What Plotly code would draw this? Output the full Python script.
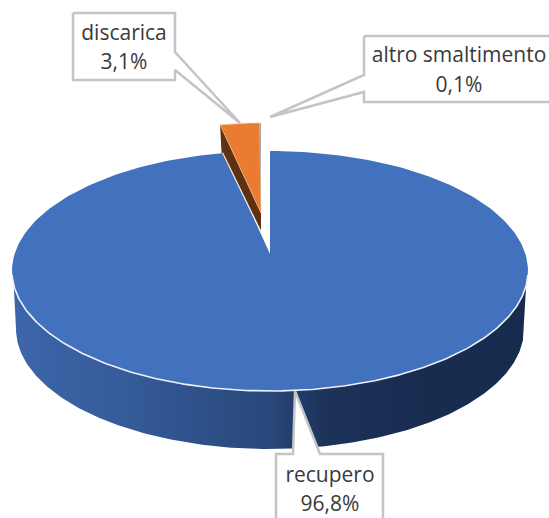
import numpy as np
import plotly.graph_objects as go

categories = ["recupero", "discarica", "altro smaltimento"]
values = [96.8, 3.1, 0.1]
colors = ["#4271BE", "#E97C30", "#A5A5A5"]

W, H = 549, 518
CX, CY, RX, RY = 270, 271, 258, 120
APEX = (270, 254)
WALL_CX, WALL_CY, WALL_RX = 270, 329, 254
GRAY = "#C4C4C4"
TXT = "#3A3A3A"
VIEW_CORRECTION = 1.3  # degrees: the perspective narrows the rim at the back


def pct(v):
    return f"{v:.1f}%".replace(".", ",")


def arc(a0, a1, cx, cy, rx, ry, n=240):
    t = np.radians(np.linspace(a0, a1, n))
    return cx + rx * np.sin(t), cy - ry * np.cos(t)


angles = np.cumsum([0] + [v / sum(values) * 360 for v in values])
fig = go.Figure()


def poly(xs, ys, fill=None, line=None, width=0, **kw):
    fig.add_trace(go.Scatter(
        x=list(xs), y=list(ys), mode="lines", fill="toself" if fill else "none",
        fillcolor=fill, line=dict(color=line or "rgba(0,0,0,0)", width=width),
        hoverinfo="skip", showlegend=False, **kw))


# side wall of the big slice
wx, wy = arc(90, 270, WALL_CX, WALL_CY, WALL_RX, RY)
poly(np.r_[CX + RX - 1, wx, CX - RX + 1], np.r_[CY, wy, CY], fill="#24406F",
     fillgradient=dict(type="horizontal", start=16, stop=524, colorscale=[
         [0, "#3D65A8"], [0.25, "#345997"], [0.5, "#284779"], [0.56, "#213B68"],
         [0.62, "#1C3258"], [0.8, "#182C50"], [1, "#172B4F"]]))

# big slice top
bx, by = arc(angles[0], angles[1] + VIEW_CORRECTION, CX, CY, RX, RY)
poly(np.r_[APEX[0], bx, APEX[0]], np.r_[APEX[1], by, APEX[1]], fill=colors[0])
fx, fy = arc(92, 268, CX, CY, RX, RY)
poly(fx, fy, line="#EEF2F8", width=1.6)

# exploded small slices
OX, OY, ORX, ORY = 261, 213, 205, 90
a = np.radians(angles[1])
left_x = OX + ORX * np.sin(a)
left_y = OY - ORY * np.cos(a)
# dark side of the discarica slice
poly([left_x, left_x + 1.5, OX, OX], [left_y, left_y + 28, OY + 18, OY], fill="#5E3210")
poly([left_x + 2.5, OX + 0.5], [left_y + 28, OY + 20], line="#EEF2F8", width=1.2)
ox, oy = arc(angles[1], angles[2], OX, OY, ORX, ORY, 40)
poly(np.r_[OX, ox, OX], np.r_[OY, oy, OY], fill=colors[1], line="#F6C7A4", width=0.6)
gx, gy = arc(angles[2], angles[3], OX, OY, ORX, ORY, 5)
poly(np.r_[OX, gx, OX], np.r_[OY, gy, OY], fill=colors[2])

# callouts
poly([73, 175, 175, 240, 175, 175, 73, 73], [13, 13, 52, 123, 70, 80, 80, 13],
     fill="white", line=GRAY, width=2.5)
poly([364, 553, 553, 364, 364, 270, 364, 364], [36, 36, 102, 102, 92, 117, 75, 36],
     fill="white", line=GRAY, width=2.5)
poly([295, 320, 383, 383, 276, 276, 293, 295], [391, 454, 454, 525, 525, 454, 454, 391],
     fill="white", line=GRAY, width=2.5)

# labels
label_pos = [(330, 477, 506), (124, 35, 64), (459, 57, 87)]
for name, v, (x, y1, y2) in zip(categories, values, label_pos):
    fig.add_trace(go.Scatter(
        x=[x, x], y=[y1, y2], mode="text", text=[name, pct(v)],
        textposition="middle center",
        textfont=dict(family="Open Sans, Noto Sans, sans-serif", size=21, color=TXT),
        hoverinfo="skip", showlegend=False))

fig.update_layout(
    width=W, height=H, margin=dict(l=0, r=0, t=0, b=0),
    paper_bgcolor="white", plot_bgcolor="white", showlegend=False,
    xaxis=dict(range=[0, W], visible=False, fixedrange=True),
    yaxis=dict(range=[H, 0], visible=False, fixedrange=True),
)
fig.write_html("out.html", config={"displayModeBar": False},
               post_script="document.body.style.margin='0';document.body.style.overflow='hidden';")
